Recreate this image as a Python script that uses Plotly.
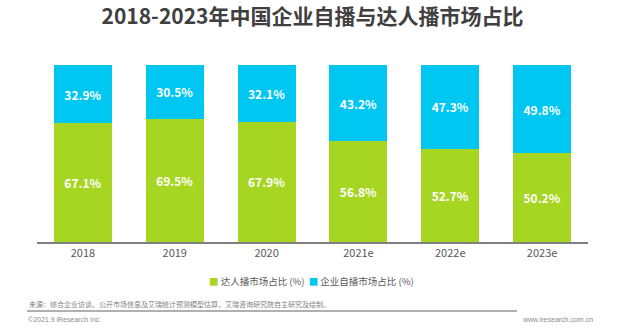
import plotly.graph_objects as go

years = ["2018", "2019", "2020", "2021e", "2022e", "2023e"]
kol_share = [67.1, 69.5, 67.9, 56.8, 52.7, 50.2]        # 达人播市场占比
brand_share = [32.9, 30.5, 32.1, 43.2, 47.3, 49.8]      # 企业自播市场占比
series_names = ["达人播市场占比 (%)", "企业自播市场占比 (%)"]

GREEN = "#A6D622"
BLUE = "#00C7F2"
CJK = "Noto Sans CJK SC"

W, H = 640, 334
L, R, T, B = 37, 52, 65, 92
pw, ph = W - L - R, H - T - B


def px_x(x):
    return (x - L) / pw


def px_y(y):
    return (H - B - y) / ph


fig = go.Figure()
for vals, name, color in [(kol_share, series_names[0], GREEN),
                          (brand_share, series_names[1], BLUE)]:
    fig.add_bar(
        x=years, y=vals, name=name,
        marker=dict(color=color, line=dict(width=0)),
        text=[f"{v:.1f}%" for v in vals], textposition="inside",
        insidetextanchor="middle",
        textfont=dict(color="white", size=12, family=CJK, weight="bold"),
        showlegend=False,
    )

fig.update_layout(
    width=W, height=H,
    margin=dict(l=L, r=R, t=T, b=B),
    barmode="stack", bargap=0.37,
    plot_bgcolor="white", paper_bgcolor="white",
    font=dict(family=CJK, color="#595959"),
    uniformtext=dict(mode="show", minsize=8),
    title=dict(
        text="2018-2023年中国企业自播与达人播市场占比",
        x=0.5, xref="paper", xanchor="center",
        y=1 - 17 / H, yanchor="middle",
        font=dict(family=CJK, size=21, color="#404040", weight="bold"),
    ),
    showlegend=False,
    xaxis=dict(
        showline=True, linecolor="#7f7f7f", linewidth=1.5,
        ticks="", showgrid=False, range=[-0.5, 5.5],
        tickfont=dict(size=11, color="#595959", family=CJK),
    ),
    yaxis=dict(visible=False, range=[0, 100], showgrid=False),
)

# compact legend: coloured square + series name
legend_html = (
    f"<span style='color:{GREEN}'>■</span> {series_names[0]}"
    f"  <span style='color:{BLUE}'>■</span> {series_names[1]}"
)
fig.add_annotation(
    text=legend_html, xref="paper", yref="paper",
    x=px_x(311), y=px_y(281), xanchor="center", yanchor="middle",
    showarrow=False, font=dict(size=9.5, color="#595959", family=CJK),
)

# footer: source note, rule line, copyright and site
fig.add_annotation(
    text="来源：综合企业访谈、公开市场信息及艾瑞统计预测模型估算，艾瑞咨询研究院自主研究及绘制。",
    xref="paper", yref="paper", x=px_x(27), y=px_y(304),
    xanchor="left", yanchor="middle", showarrow=False,
    font=dict(size=7, color="#7f7f7f", family=CJK),
)
fig.add_shape(
    type="line", xref="paper", yref="paper",
    x0=px_x(27), x1=px_x(517), y0=px_y(311), y1=px_y(311),
    line=dict(color="#b0b0b0", width=2),
)
fig.add_annotation(
    text="©2021.9 iResearch Inc.",
    xref="paper", yref="paper", x=px_x(26), y=px_y(319),
    xanchor="left", yanchor="middle", showarrow=False,
    font=dict(size=7, color="#8c8c8c", family="Liberation Sans"),
)
fig.add_annotation(
    text="www.iresearch.com.cn",
    xref="paper", yref="paper", x=px_x(595), y=px_y(319),
    xanchor="right", yanchor="middle", showarrow=False,
    font=dict(size=7, color="#8c8c8c", family="Liberation Sans"),
)

fig.write_html("out.html")
